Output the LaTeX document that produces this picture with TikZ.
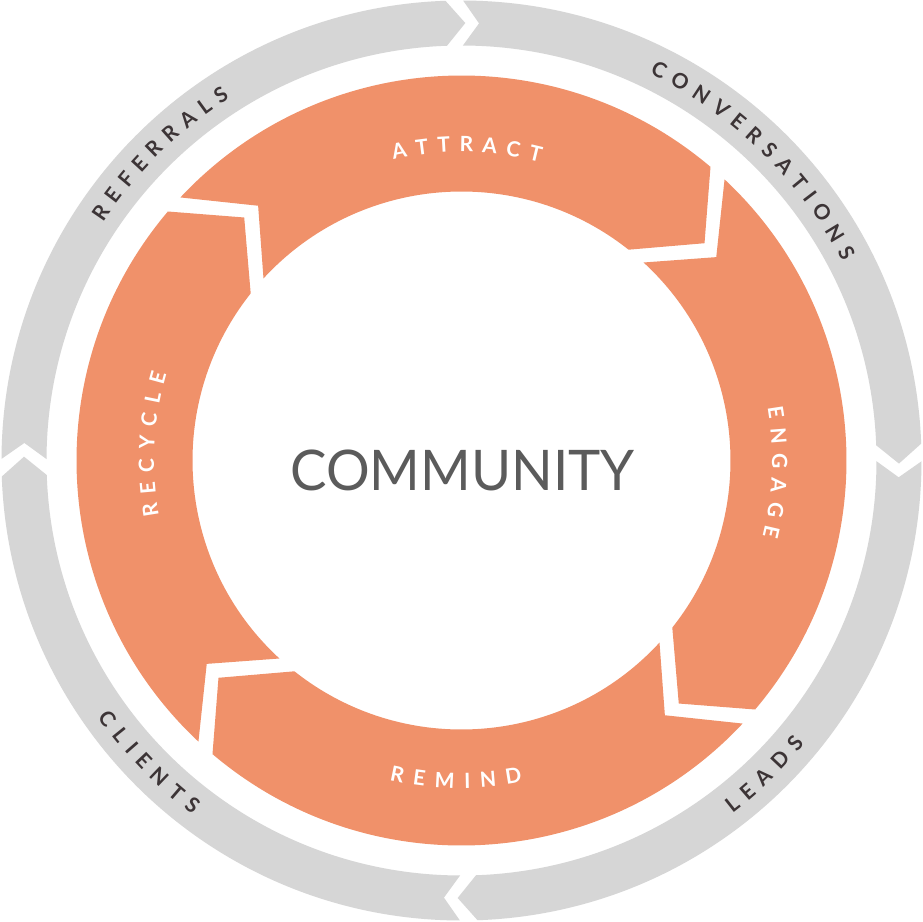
\documentclass[tikz,border=0pt]{standalone}
\usepackage{fontspec}
\setmainfont{Lato}
\definecolor{orangec}{HTML}{F0916A}
\definecolor{grayc}{HTML}{D6D6D6}
\definecolor{darktxt}{HTML}{3C3436}
\definecolor{midtxt}{HTML}{5B5B5B}
\newdimen\chw
\newcommand\lblfont{\bfseries\fontsize{21}{21}\selectfont}
\newcommand\arcword[7]{%
  \gdef\totw{0}%
  \foreach \lett in {#7}{\pgfinterruptpicture\settowidth\chw{\lblfont\lett}\global\chw=\chw\endpgfinterruptpicture\pgfmathsetmacro\tmpw{\totw+\chw+#4}\xdef\totw{\tmpw}}%
  \pgfmathsetmacro\halfw{(\totw-#4)/2}%
  \gdef\cumw{0}%
  \foreach \lett [count=\k] in {#7}{%
    \pgfinterruptpicture\settowidth\chw{\lblfont\lett}\global\chw=\chw\endpgfinterruptpicture
    \pgfmathsetmacro\ang{#3-(#5)*(\cumw+\chw/2-\halfw)/#2*57.29578}%
    \pgfmathsetmacro\rb{#2-(#5)*7.5}%
    \node[lettr,text=#6,rotate=\ang-90*(#5)] (#1\k) at (\ang:\rb pt) {\lett};
    \pgfmathsetmacro\tmpw{\cumw+\chw+#4}\xdef\cumw{\tmpw}%
  }%
}
\newcommand\oseg[2]{%
  \fill[orangec] ({#1+5.1}:385pt) arc[start angle=#1+5.1, end angle=#2+7.9, radius=385pt]
    -- ({#2}:326pt) -- ({#2+9.8}:269pt)
    arc[start angle=#2+9.8, end angle=#1+5.6, radius=269pt]
    -- ({#1-3.2}:326pt) -- cycle;}
\newcommand\gseg[2]{%
  \fill[grayc] ({#1+0.3}:460pt) arc[start angle=#1+0.3, end angle=#2+2.5, radius=460pt]
    -- ({#2}:437.5pt) -- ({#2+2.5}:415pt)
    arc[start angle=#2+2.5, end angle=#1+0.3, radius=415pt]
    -- ({#1-1.8}:437.5pt) -- cycle;}
\tikzset{lettr/.style={anchor=base,inner sep=0pt,font=\lblfont}}
\begin{document}
\begin{tikzpicture}
\useasboundingbox (-461.5pt,-460.5pt) rectangle (461.5pt,460.5pt);
\fill[white] (-461.5pt,-460.5pt) rectangle (461.5pt,460.5pt);
% outer gray ring
\gseg{179.5}{89.5}
\gseg{89.5}{-0.4}
\gseg{-0.4}{-90.5}
\gseg{-90.5}{-180.5}
% orange ring
\oseg{131.8}{41.8}
\oseg{41.8}{-48.2}
\oseg{-48.2}{-138.2}
\oseg{-138.2}{-228.2}
% center
\node[font=\fontsize{56}{56}\selectfont,text=midtxt,inner sep=0pt,xscale=0.975] (comm) at (1pt,-10pt) {COMMUNITY};
% orange labels
\arcword{att}{316}{89}{9.5}{1}{white}{A,T,T,R,A,C,T}
\arcword{eng}{318}{-2.2}{9.5}{1}{white}{E,N,G,A,G,E}
\arcword{rem}{320}{-91}{9.5}{-1}{white}{R,E,M,I,N,D}
\arcword{rec}{315}{177}{9.5}{1}{white}{R,E,C,Y,C,L,E}
% gray labels
\arcword{ref}{437.5}{134.5}{8.5}{1}{darktxt}{R,E,F,E,R,R,A,L,S}
\arcword{con}{437.5}{45.8}{8.5}{1}{darktxt}{C,O,N,V,E,R,S,A,T,I,O,N,S}
\arcword{lea}{437.5}{-46}{8.5}{-1}{darktxt}{L,E,A,D,S}
\arcword{cli}{437.5}{-136}{8.5}{-1}{darktxt}{C,L,I,E,N,T,S}
\end{tikzpicture}
\end{document}
